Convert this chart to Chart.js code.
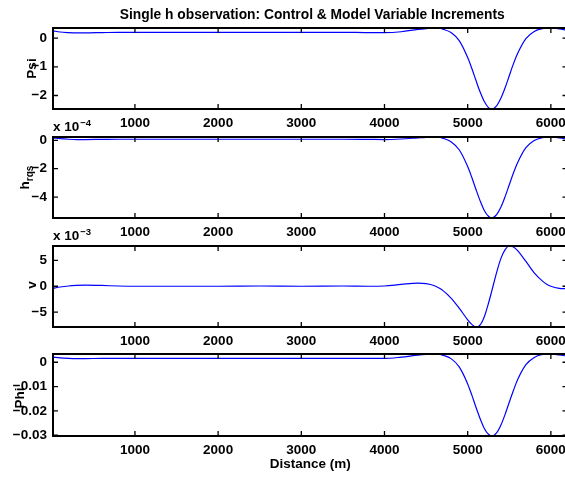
<!DOCTYPE html>
<html>
<head>
<meta charset="utf-8">
<script src="https://cdn.jsdelivr.net/npm/chart.js@4"></script>
<style>
  html, body { margin: 0; padding: 0; background: #fff; overflow: hidden; }
  #fig { position: relative; width: 565px; height: 477px; overflow: hidden; background: #fff; }
  #fig canvas { position: absolute; left: 0; }
</style>
</head>
<body>
<div id="fig">
  <canvas id="panelPsi"></canvas>
  <canvas id="panelH"></canvas>
  <canvas id="panelV"></canvas>
  <canvas id="panelPhi"></canvas>
</div>
<script>
// ---- data ----
const distance = [15, 100, 200, 300, 400, 600, 800, 1000, 1500, 2000, 2500, 3000, 3500, 3800, 4000,
  4200, 4400, 4500, 4600, 4650, 4700, 4800, 4900, 5000, 5050, 5100, 5150, 5200, 5250, 5290,
  5350, 5400, 5450, 5500, 5550, 5600, 5700, 5800, 5900, 5960, 6000, 6100, 6200];

const psi = [0.25, 0.21, 0.19, 0.18, 0.18, 0.19, 0.20, 0.20, 0.20, 0.20, 0.20, 0.20, 0.20, 0.19, 0.19,
  0.22, 0.30, 0.33, 0.35, 0.35, 0.31, 0.19, -0.10, -0.68, -1.06, -1.48, -1.88, -2.21, -2.42, -2.47,
  -2.35, -2.09, -1.73, -1.31, -0.90, -0.54, -0.02, 0.23, 0.33, 0.35, 0.35, 0.32, 0.27];

// h_rqs in units of 1e-4
const hrqs = [0.17, 0.12, 0.08, 0.06, 0.06, 0.07, 0.08, 0.08, 0.08, 0.08, 0.08, 0.08, 0.08, 0.07, 0.06,
  0.10, 0.18, 0.22, 0.24, 0.24, 0.16, -0.09, -0.68, -1.85, -2.62, -3.47, -4.27, -4.95, -5.36, -5.48,
  -5.23, -4.71, -3.97, -3.13, -2.30, -1.57, -0.51, -0.01, 0.20, 0.24, 0.24, 0.18, 0.08];

// v in units of 1e-3
const vel = [-0.4, -0.15, 0.05, 0.15, 0.2, 0.15, 0.05, 0.0, 0.0, 0.0, 0.05, 0.0, 0.05, 0.0, 0.05,
  0.35, 0.6, 0.5, 0.1, -0.3, -0.8, -2.3, -4.3, -6.5, -7.4, -7.9, -7.5, -5.9, -3.3, -0.9,
  2.8, 5.4, 7.1, 7.8, 7.6, 6.9, 4.8, 2.6, 1.0, 0.3, 0.0, -0.4, -0.5];

const phi = [0.0021, 0.0018, 0.0016, 0.0015, 0.0015, 0.0016, 0.0016, 0.0016, 0.0016, 0.0016, 0.0016, 0.0016, 0.0016, 0.0016, 0.0016,
  0.0021, 0.0029, 0.0032, 0.0034, 0.0034, 0.0029, 0.0015, -0.0020, -0.0089, -0.0135, -0.0185, -0.0232, -0.0272, -0.0296, -0.0303,
  -0.0289, -0.0258, -0.0214, -0.0164, -0.0116, -0.0072, -0.0010, 0.0020, 0.0032, 0.0034, 0.0034, 0.0030, 0.0025];

const distanceTicks = [1000, 2000, 3000, 4000, 5000, 6000];
const psiTicks = [-2, -1, 0];
const hrqsTicks = [-4, -2, 0];
const velTicks = [-5, 0, 5];
const phiTicks = [-0.03, -0.02, -0.01, 0];

const figureTitle = 'Single h observation: Control & Model Variable Increments';
const distanceLabel = 'Distance (m)';

// ---- styling ----
const FONT = '"Liberation Sans", Arial, Helvetica, sans-serif';
const TICK_SIZE = 13.5;
const LINE_BLUE = '#0000ff';
const XMIN = 15, XMAX = 6200;
const CANVAS_W = 600;
const PLOT_LEFT = 53, PLOT_RIGHT = 567.5;

Chart.defaults.font.family = FONT;
Chart.defaults.font.weight = 'bold';
Chart.defaults.font.size = TICK_SIZE;
Chart.defaults.color = '#000';

function fmtNum(v) {
  const s = String(Math.abs(v));
  return v < 0 ? '\u2212' + s : s;
}

// axes box with inward ticks on all four sides
const boxPlugin = {
  id: 'matBox',
  afterDatasetsDraw(chart) {
    const { ctx, chartArea: a, scales } = chart;
    ctx.save();
    ctx.strokeStyle = '#000';
    ctx.lineWidth = 1.3;
    const tl = 5;
    ctx.beginPath();
    scales.x.ticks.forEach(t => {
      const px = scales.x.getPixelForValue(t.value);
      ctx.moveTo(px, a.bottom); ctx.lineTo(px, a.bottom - tl);
      ctx.moveTo(px, a.top); ctx.lineTo(px, a.top + tl);
    });
    scales.y.ticks.forEach(t => {
      const py = scales.y.getPixelForValue(t.value);
      ctx.moveTo(a.left, py); ctx.lineTo(a.left + tl, py);
      ctx.moveTo(a.right, py); ctx.lineTo(a.right - tl, py);
    });
    ctx.stroke();
    ctx.lineWidth = 2;
    ctx.strokeRect(a.left, a.top, a.right - a.left, a.bottom - a.top);
    ctx.restore();
  }
};

// title, rotated y label (with optional subscript) and exponent note
const textPlugin = {
  id: 'panelText',
  afterDraw(chart, args, opts) {
    const { ctx, chartArea: a } = chart;
    ctx.save();
    ctx.fillStyle = '#000';
    ctx.textBaseline = 'alphabetic';
    if (opts.title) {
      ctx.font = `bold ${opts.titleSize}px ${FONT}`;
      ctx.textAlign = 'center';
      ctx.fillText(opts.title, (a.left + a.right) / 2 + 2, opts.titleBaseline);
    }
    if (opts.ylabel) {
      const cy = (a.top + a.bottom) / 2 + (opts.ylabelShift || 0);
      ctx.translate(opts.ylabelX, cy);
      ctx.rotate(-Math.PI / 2);
      ctx.font = `bold ${TICK_SIZE}px ${FONT}`;
      const w1 = ctx.measureText(opts.ylabel).width;
      let w2 = 0;
      if (opts.ysub) {
        ctx.font = `bold 10px ${FONT}`;
        w2 = ctx.measureText(opts.ysub).width;
      }
      const start = -(w1 + w2) / 2;
      ctx.textAlign = 'left';
      ctx.font = `bold ${TICK_SIZE}px ${FONT}`;
      ctx.fillText(opts.ylabel, start, 0);
      if (opts.ysub) {
        ctx.font = `bold 10px ${FONT}`;
        ctx.fillText(opts.ysub, start + w1, 4.5);
      }
      ctx.setTransform(1, 0, 0, 1, 0, 0);
    }
    if (opts.expBase) {
      const by = a.top - 5.6;
      ctx.textAlign = 'left';
      ctx.font = `bold ${TICK_SIZE}px ${FONT}`;
      ctx.fillText(opts.expBase, a.left, by);
      const w = ctx.measureText(opts.expBase).width;
      ctx.font = `bold 9.5px ${FONT}`;
      ctx.fillText(opts.expSup, a.left + w + 1, by - 5.5);
    }
    ctx.restore();
  }
};

function makePanel(id, canvasTop, padTop, plotH, bottomSpace, values, yMin, yMax, yTicks, text, withXTitle) {
  const cv = document.getElementById(id);
  const H = padTop + plotH + bottomSpace;
  cv.width = CANVAS_W; cv.height = H;
  cv.style.width = CANVAS_W + 'px'; cv.style.height = H + 'px';
  cv.style.top = canvasTop + 'px';
  return new Chart(cv, {
    type: 'line',
    data: {
      datasets: [{
        data: distance.map((d, i) => ({ x: d, y: values[i] })),
        borderColor: LINE_BLUE,
        borderWidth: 1.2,
        pointRadius: 0,
        fill: false,
        cubicInterpolationMode: 'monotone',
        clip: 3
      }]
    },
    options: {
      responsive: false,
      devicePixelRatio: 1,
      animation: false,
      events: [],
      layout: { padding: { left: 0, top: padTop, right: CANVAS_W - PLOT_RIGHT, bottom: 0 } },
      plugins: {
        legend: { display: false },
        tooltip: { enabled: false },
        panelText: text
      },
      scales: {
        x: {
          type: 'linear',
          min: XMIN, max: XMAX,
          grid: { display: false, drawTicks: false },
          border: { display: false },
          afterBuildTicks: s => { s.ticks = distanceTicks.map(v => ({ value: v })); },
          afterFit: s => { s.height = bottomSpace; },
          ticks: { padding: 6, maxRotation: 0, autoSkip: false, callback: v => String(v) },
          title: withXTitle ? {
            display: true, text: distanceLabel,
            font: { size: TICK_SIZE, weight: 'bold' },
            padding: { top: 0, bottom: 5 }
          } : { display: false }
        },
        y: {
          type: 'linear',
          min: yMin, max: yMax,
          grid: { display: false, drawTicks: false },
          border: { display: false },
          afterBuildTicks: s => { s.ticks = yTicks.map(v => ({ value: v })); },
          afterFit: s => { s.width = PLOT_LEFT; },
          ticks: { padding: 6, autoSkip: false, callback: v => fmtNum(v) }
        }
      }
    },
    plugins: [boxPlugin, textPlugin]
  });
}

makePanel('panelPsi', 0, 28, 81, 30, psi, -2.47, 0.35, psiTicks,
  { title: figureTitle, titleSize: 13.8, titleBaseline: 18.5, ylabel: 'Psi', ylabelX: 36 }, false);

makePanel('panelH', 112, 25, 81, 30, hrqs, -5.48, 0.24, hrqsTicks,
  { ylabel: 'h', ysub: 'rqs', ylabelX: 28.5, expBase: 'x 10', expSup: '\u22124' }, false);

makePanel('panelV', 221, 25, 81, 30, vel, -7.9, 7.8, velTicks,
  { ylabel: 'v', ylabelX: 35.5, ylabelShift: -1.5, expBase: 'x 10', expSup: '\u22123' }, false);

makePanel('panelPhi', 329, 25, 82, 41, phi, -0.0303, 0.0034, phiTicks,
  { ylabel: 'Phi', ylabelX: 23.5, ylabelShift: 3 }, true);
</script>
</body>
</html>
